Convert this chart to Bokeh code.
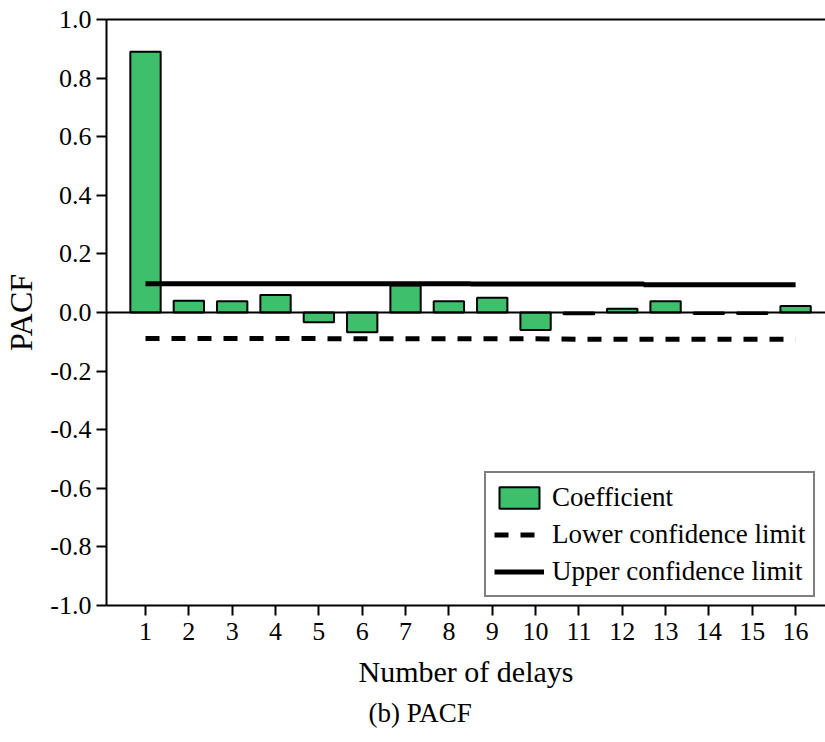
from bokeh.plotting import figure
from bokeh.models import (Range1d, FixedTicker, NumeralTickFormatter, Span,
                          LinearAxis, Title, Legend, LegendItem)
from bokeh.embed import file_html
from bokeh.resources import INLINE

# Partial autocorrelation by lag
lags = list(range(1, 17))
pacf = [0.89, 0.040, 0.038, 0.060, -0.033, -0.067, 0.092, 0.038,
        0.050, -0.060, -0.006, 0.013, 0.038, -0.005, -0.005, 0.022]
upper_limit = [0.098, 0.098, 0.098, 0.098, 0.098, 0.098, 0.098, 0.098,
               0.097, 0.097, 0.097, 0.097, 0.095, 0.095, 0.095, 0.095]
lower_limit = [-0.089, -0.089, -0.089, -0.089, -0.089, -0.090, -0.090, -0.090,
               -0.090, -0.090, -0.091, -0.091, -0.091, -0.091, -0.091, -0.091]
y_ticks = [-1.0, -0.8, -0.6, -0.4, -0.2, 0.0, 0.2, 0.4, 0.6, 0.8, 1.0]

FONT = "Liberation Serif"
GREEN = "#3dbf6c"

p = figure(width=825, height=742, output_backend="svg", toolbar_location=None,
           x_range=Range1d(0.1, 16.69), y_range=Range1d(-1.0, 1.0),
           min_border_left=106, min_border_right=0, min_border_top=19,
           min_border_bottom=137)
p.outline_line_color = None
p.xgrid.visible = False
p.ygrid.visible = False
p.background_fill_color = "white"
p.border_fill_color = "white"

bars = p.vbar(x=lags, top=pacf, bottom=0, width=0.7, fill_color=GREEN,
              line_color="black", line_width=2)
lower = p.line(lags, lower_limit, line_color="black", line_width=5,
               line_dash="14 12")
upper = p.step(lags, upper_limit, mode="center", line_color="black", line_width=5)

p.add_layout(Span(location=0, dimension="width", line_color="black", line_width=2))

for ax in (p.xaxis[0], p.yaxis[0]):
    ax.axis_line_width = 2
    ax.major_tick_line_width = 2
    ax.major_tick_in = 0
    ax.major_tick_out = 10
    ax.minor_tick_line_color = None
    ax.major_label_text_font = FONT
    ax.major_label_text_font_size = "26px"
    ax.major_label_text_color = "black"
    ax.axis_label_text_font = FONT
    ax.axis_label_text_font_style = "normal"
    ax.axis_label_text_color = "black"

p.xaxis.ticker = FixedTicker(ticks=lags)
p.xaxis.major_label_standoff = 7
p.xaxis.axis_label = "Number of delays"
p.xaxis.axis_label_text_font_size = "30px"
p.xaxis.axis_label_standoff = 12

p.yaxis.ticker = FixedTicker(ticks=y_ticks)
p.yaxis.formatter = NumeralTickFormatter(format="0.0")
p.yaxis.major_label_standoff = 5
p.yaxis.axis_label = "PACF"
p.yaxis.axis_label_text_font_size = "32px"
p.yaxis.axis_label_standoff = 8

# top frame edge
top_axis = LinearAxis(ticker=FixedTicker(ticks=[]), axis_line_width=2,
                      major_label_text_font_size="0px")
p.add_layout(top_axis, "above")

p.add_layout(Title(text="(b) PACF", align="left", text_font=FONT,
                   text_font_size="27px", text_font_style="normal",
                   text_color="black", offset=262), "below")

legend = Legend(items=[
    LegendItem(label="Coefficient", renderers=[bars]),
    LegendItem(label="Lower confidence limit", renderers=[lower]),
    LegendItem(label="Upper confidence limit", renderers=[upper]),
], location=(378, 8))
legend.label_text_font = FONT
legend.label_text_font_size = "27px"
legend.label_text_color = "black"
legend.glyph_width = 50
legend.glyph_height = 27
legend.label_height = 32
legend.label_standoff = 8
legend.spacing = 5
legend.padding = 8
legend.margin = 0
legend.border_line_color = "black"
legend.border_line_width = 2
legend.background_fill_alpha = 1
p.add_layout(legend)

open("out.html", "w").write(file_html(p, INLINE))
